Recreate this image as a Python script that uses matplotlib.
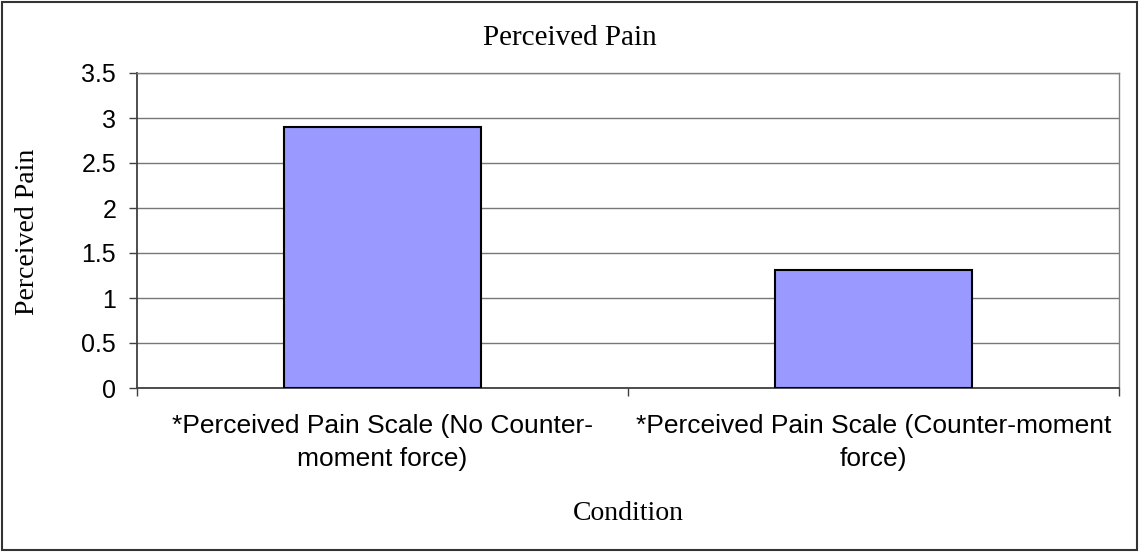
import numpy as np
import matplotlib
matplotlib.use("Agg")
import matplotlib.pyplot as plt
from matplotlib.patches import Rectangle

# data
conditions = ["*Perceived Pain Scale (No Counter-\nmoment force)",
              "*Perceived Pain Scale (Counter-moment\nforce)"]
pain = [2.9, 1.31]
y_ticks = [0, 0.5, 1, 1.5, 2, 2.5, 3, 3.5]
y_tick_labels = ["0", "0.5", "1", "1.5", "2", "2.5", "3", "3.5"]

sans = "Liberation Sans"
serif = "Liberation Serif"

fig = plt.figure(figsize=(11.39, 5.52), dpi=100)
ax = fig.add_axes([137 / 1139, 1 - 388 / 552, (1119 - 137) / 1139, (388 - 73) / 552])

x = np.arange(len(conditions))
ax.bar(x, pain, width=0.4, color="#9999ff", edgecolor="black", linewidth=1.5, zorder=3)

ax.set_xlim(-0.5, 1.5)
ax.set_ylim(0, 3.5)
ax.set_yticks(y_ticks)
ax.set_yticklabels(y_tick_labels, fontfamily=sans, fontsize=18)
ax.yaxis.grid(True, color="#777777", linewidth=1, zorder=0)

# category ticks sit on the boundaries between categories
ax.set_xticks([-0.5, 0.5, 1.5])
ax.set_xticklabels([])
ax.tick_params(axis="x", length=6, color="#404040", width=1)
ax.tick_params(axis="y", length=6, color="#404040", width=1, pad=9)
for i, lab in enumerate(conditions):
    ax.text(i, -0.29, lab, ha="center", va="top", fontfamily=sans,
            fontsize=19, linespacing=1.45)

for s in ["left", "bottom"]:
    ax.spines[s].set_color("#404040")
    ax.spines[s].set_linewidth(1.3)
for s in ["top", "right"]:
    ax.spines[s].set_color("#808080")
    ax.spines[s].set_linewidth(1)

fig.text(27 / 1139, 1 - 232 / 552, "Perceived Pain", rotation=90, ha="center",
         va="center", fontfamily=serif, fontsize=20)
fig.text(628 / 1139, 1 - 513 / 552, "Condition", ha="center", va="center",
         fontfamily=serif, fontsize=20)
fig.text(0.5, 1 - 38 / 552, "Perceived Pain", ha="center", va="center",
         fontfamily=serif, fontsize=21)

# outer chart border
fig.patches.append(Rectangle((0.002, 0.003), 0.996, 0.994, transform=fig.transFigure,
                             fill=False, edgecolor="#333333", linewidth=1.5))

fig.savefig("out.png", dpi=100)
